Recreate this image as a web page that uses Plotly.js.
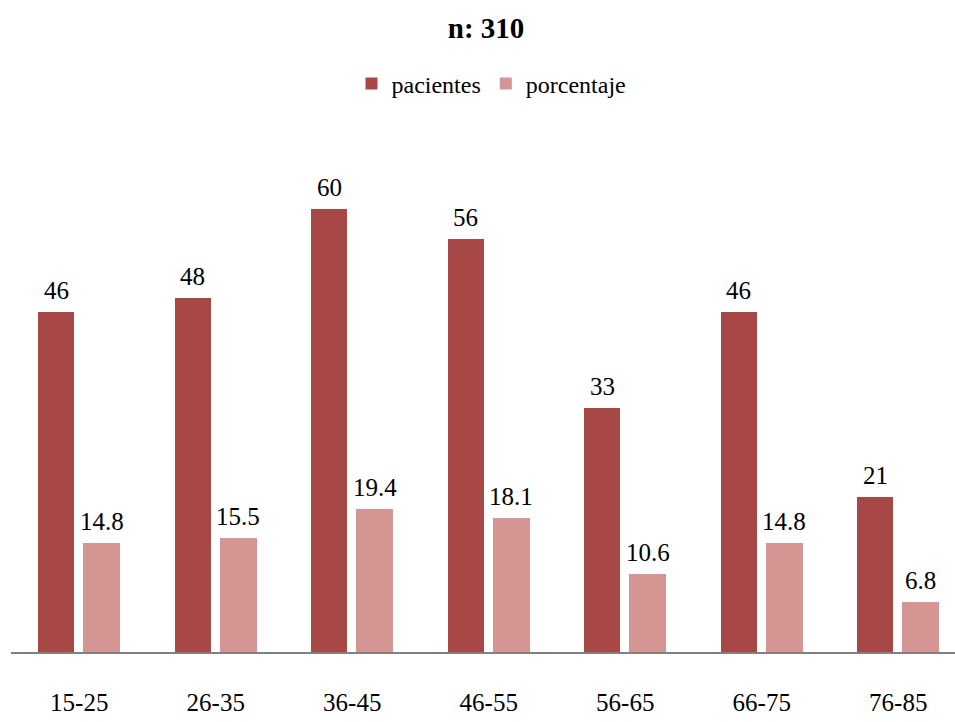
<!DOCTYPE html>
<html>
<head>
<meta charset="utf-8">
<script src="https://cdn.plot.ly/plotly-3.0.1.min.js"></script>
<style>html,body{margin:0;padding:0;background:#fff;}#chart{width:955px;height:722px;}</style>
</head>
<body>
<div id="chart"></div>
<script>
const categories = ["15-25", "26-35", "36-45", "46-55", "56-65", "66-75", "76-85"];
const pacientes = [46, 48, 60, 56, 33, 46, 21];
const porcentaje = [14.8, 15.5, 19.4, 18.1, 10.6, 14.8, 6.8];

const FONT = "'Liberation Serif', 'Times New Roman', serif";
const labelFont = {family: FONT, size: 25, color: "#000"};

const OFF_P = -0.30, W_P = 0.265, OFF_Q = 0.03, W_Q = 0.27;

const traces = [
  {
    type: "bar", name: "pacientes", x: categories, y: pacientes,
    marker: {color: "#A84846"}, offset: OFF_P, width: W_P, hoverinfo: "x+y"
  },
  {
    type: "bar", name: "porcentaje", x: categories, y: porcentaje,
    marker: {color: "#D49593"}, offset: OFF_Q, width: W_Q, hoverinfo: "x+y"
  }
];

const annotations = [];
categories.forEach((c, i) => {
  annotations.push({x: i + OFF_P + W_P / 2, y: pacientes[i], xref: "x", yref: "y",
    text: String(pacientes[i]), showarrow: false, yanchor: "bottom", yshift: 6, font: labelFont});
  annotations.push({x: i + OFF_Q + W_Q / 2, y: porcentaje[i], xref: "x", yref: "y",
    text: porcentaje[i].toFixed(1), showarrow: false, yanchor: "bottom", yshift: 6, font: labelFont});
});

const layout = {
  width: 955, height: 722,
  paper_bgcolor: "#fff", plot_bgcolor: "#fff",
  margin: {l: 11, r: 0, t: 130, b: 70},
  title: {text: "<b>n: 310</b>", x: 0.509, xanchor: "center", y: 0.962, yanchor: "middle",
          font: {family: FONT, size: 29, color: "#000"}},
  showlegend: true,
  legend: {orientation: "h", x: 0.509, xanchor: "center", y: 0.915, yref: "container", yanchor: "top",
           font: {family: FONT, size: 24, color: "#000"}, traceorder: "normal", itemwidth: 30},
  xaxis: {
    type: "category", range: [-0.5, 6.416],
    showline: true, linecolor: "#808080", linewidth: 1.5,
    ticks: "", showgrid: false, zeroline: false,
    tickfont: {family: FONT, size: 25, color: "#000"}, ticklabelstandoff: 27
  },
  yaxis: {range: [0, 70.7], visible: false, showgrid: false, zeroline: false},
  annotations: annotations,
  bargap: 0
};

Plotly.newPlot("chart", traces, layout, {displayModeBar: false, staticPlot: true});
</script>
</body>
</html>
